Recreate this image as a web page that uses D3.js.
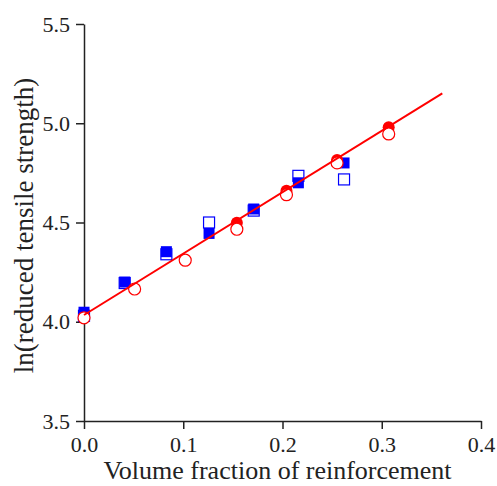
<!DOCTYPE html>
<html>
<head>
<meta charset="utf-8">
<script src="https://cdn.jsdelivr.net/npm/d3@7"></script>
<style>
  body { margin: 0; background: #fff; }
  text { font-family: "Liberation Serif", "Times New Roman", serif; }
</style>
</head>
<body>
<div id="chart"></div>
<script>
// Data
const openSquareX = [0.0, 0.041, 0.083, 0.126, 0.171, 0.216, 0.262];
const openSquareY = [4.03, 4.195, 4.34, 4.50, 4.56, 4.735, 4.717];

const filledSquareX = [0.0, 0.041, 0.083, 0.126, 0.171, 0.216, 0.262];
const filledSquareY = [4.048, 4.20, 4.353, 4.445, 4.568, 4.70, 4.80];

const filledCircleX = [0.154, 0.204, 0.255, 0.307];
const filledCircleY = [4.499, 4.66, 4.815, 4.98];

const openCircleX = [0.0, 0.051, 0.102, 0.154, 0.204, 0.255, 0.307];
const openCircleY = [4.02, 4.165, 4.31, 4.466, 4.64, 4.80, 4.946];

// Fitted line end points
const fitX = [0.0, 0.361];
const fitY = [4.034, 5.151];

const xTicks = [0.0, 0.1, 0.2, 0.3, 0.4];
const yTicks = [3.5, 4.0, 4.5, 5.0, 5.5];

const W = 497, H = 486;
const margin = { top: 24, left: 84 };
const plotW = 397, plotH = 397;

const svg = d3.select("#chart")
  .append("svg")
  .attr("width", W)
  .attr("height", H);

const g = svg.append("g")
  .attr("transform", `translate(${margin.left},${margin.top})`);

const x = d3.scaleLinear().domain([0, 0.4]).range([0, plotW]);
const y = d3.scaleLinear().domain([3.5, 5.5]).range([plotH, 0]);

// Axes
const xAxis = g.append("g")
  .attr("transform", `translate(0,${plotH})`)
  .call(d3.axisBottom(x).tickValues(xTicks).tickFormat(d3.format(".1f")).tickSize(8).tickSizeOuter(0));

const yAxis = g.append("g")
  .call(d3.axisLeft(y).tickValues(yTicks).tickFormat(d3.format(".1f")).tickSize(8).tickSizeOuter(0));

[xAxis, yAxis].forEach(a => {
  a.select(".domain").attr("stroke", "#222").attr("stroke-width", 1.5);
  a.selectAll(".tick line").attr("stroke", "#222").attr("stroke-width", 1.5);
  a.selectAll(".tick text")
    .attr("font-family", "Liberation Serif")
    .attr("font-size", 22)
    .attr("fill", "#222");
});
xAxis.selectAll(".tick text").attr("dy", "0").attr("y", 31);
yAxis.selectAll(".tick text").attr("x", -14);

// Axis titles
g.append("text")
  .attr("x", x(0.2) - 5)
  .attr("y", 455)
  .attr("text-anchor", "middle")
  .attr("font-size", 26)
  .attr("fill", "#222")
  .text("Volume fraction of reinforcement");

g.append("text")
  .attr("transform", "rotate(-90)")
  .attr("x", -(y(4.5) + 3))
  .attr("y", -51)
  .attr("text-anchor", "middle")
  .attr("font-size", 27)
  .attr("fill", "#222")
  .text("ln(reduced tensile strength)");

const sq = 11, r = 6;

// Open squares
g.selectAll(".osq")
  .data(openSquareX.map((d, i) => [d, openSquareY[i]]))
  .enter().append("rect")
  .attr("x", d => x(d[0]) - sq / 2)
  .attr("y", d => y(d[1]) - sq / 2)
  .attr("width", sq).attr("height", sq)
  .attr("fill", "#fff").attr("stroke", "#0000ff").attr("stroke-width", 1.2);

// Filled squares
g.selectAll(".fsq")
  .data(filledSquareX.map((d, i) => [d, filledSquareY[i]]))
  .enter().append("rect")
  .attr("x", d => x(d[0]) - sq / 2)
  .attr("y", d => y(d[1]) - sq / 2)
  .attr("width", sq).attr("height", sq)
  .attr("fill", "#0000ff");

// Filled circles
g.selectAll(".fc")
  .data(filledCircleX.map((d, i) => [d, filledCircleY[i]]))
  .enter().append("circle")
  .attr("cx", d => x(d[0]))
  .attr("cy", d => y(d[1]))
  .attr("r", r)
  .attr("fill", "#ff0000");

// Open circles
g.selectAll(".oc")
  .data(openCircleX.map((d, i) => [d, openCircleY[i]]))
  .enter().append("circle")
  .attr("cx", d => x(d[0]))
  .attr("cy", d => y(d[1]))
  .attr("r", r)
  .attr("fill", "#fff").attr("stroke", "#ff0000").attr("stroke-width", 1.2);

// Fit line
g.append("path")
  .datum(fitX.map((d, i) => [d, fitY[i]]))
  .attr("d", d3.line().x(d => x(d[0])).y(d => y(d[1])))
  .attr("fill", "none")
  .attr("stroke", "#ff0000")
  .attr("stroke-width", 2);
</script>
</body>
</html>
